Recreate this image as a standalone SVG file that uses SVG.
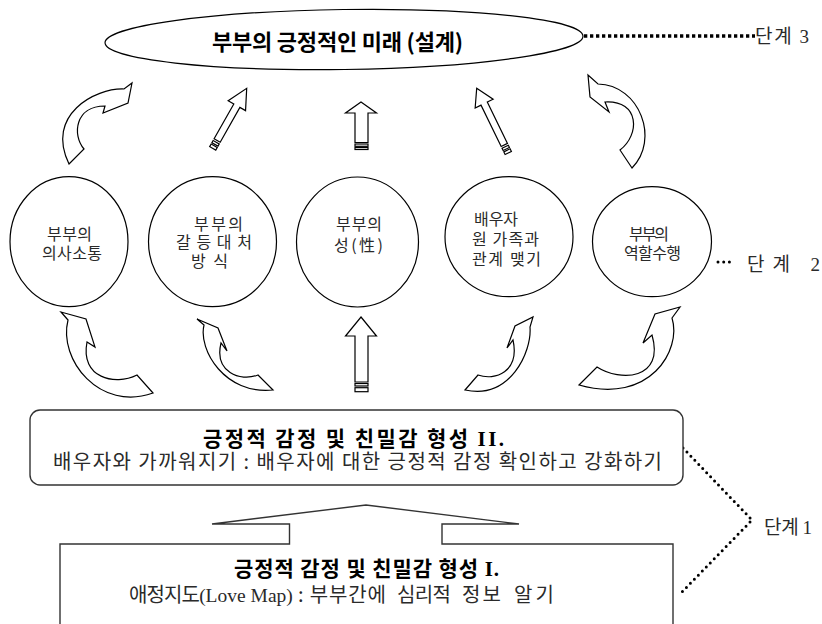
<svg xmlns="http://www.w3.org/2000/svg" width="822" height="624" viewBox="0 0 822 624">
<style>
.shape{fill:#fff;stroke:#000;stroke-width:1.2;stroke-linejoin:miter}
.box{fill:#fff;stroke:#333;stroke-width:1.4}
.t{font-family:"Noto Sans CJK KR","Noto Sans CJK SC",sans-serif;fill:#2a2a2a;font-size:16px}
.big{font-size:20px}
.lab{font-size:19px}
.b{font-family:"Noto Sans CJK KR","Noto Sans CJK SC",sans-serif;font-weight:700;fill:#000;font-size:21px}
.lat{font-family:"Liberation Serif",serif}
.dotsq{fill:none;stroke:#000;stroke-width:3.3;stroke-dasharray:3.3 2.7}
.dotrd{fill:none;stroke:#000;stroke-width:3;stroke-linecap:round;stroke-dasharray:0 5.7}
</style>
<rect width="822" height="624" fill="#fff"/>

<g id="connectors">
  <path class="shape" d="M69,164 L84,149 C72,135 75,106 105,106 L103,113 L128,103 L132,83 L124,89 C95,88 45,115 69,164 Z"/>
  <g transform="translate(246.7,88.3) rotate(29.5)">
    <path class="shape" d="M0,0 L10,20 L3.5,20 L3.5,60 L-3.5,60 L-3.5,20 L-10,20 Z"/>
    <rect class="shape" x="-3.5" y="62" width="7" height="2.5"/>
    <rect class="shape" x="-3.5" y="66" width="7" height="3"/>
  </g>
  <g>
    <path class="shape" d="M361,102 L376.5,113 L368,113 L368,142.5 L355,142.5 L355,113 L345.5,113 Z"/>
    <rect class="shape" x="355" y="144" width="13" height="2.3"/>
    <rect class="shape" x="355" y="147.5" width="13" height="2"/>
  </g>
  <g transform="translate(476.7,88.3) rotate(-26)">
    <path class="shape" d="M0,0 L10,17 L3.5,17 L3.5,63 L-3.5,63 L-3.5,17 L-10,17 Z"/>
    <rect class="shape" x="-3.5" y="65" width="7" height="2.5"/>
    <rect class="shape" x="-3.5" y="69" width="7" height="3"/>
  </g>
  <path class="shape" d="M632,168 L620,150 C640,135 640,100 605,102 L609,112 L590,97 L588,75 L598,84 C640,85 660,140 632,168 Z"/>

  <path class="shape" d="M153,393 L137,375 C115,386 80,378 87,342 L95,347 L86,319 L61,312 L68,320 C58,360 100,412 153,393 Z"/>
  <path class="shape" d="M273,390 L258,375 C240,382 214,372 221,343 L227,351 L218,328 L197,319 L204,325 C198,350 225,395 273,390 Z"/>
  <g>
    <path class="shape" d="M361,317 L376.5,336 L368,336 L368,382 L355,382 L355,336 L345.5,336 Z"/>
    <rect class="shape" x="355" y="383.5" width="13" height="2.5"/>
    <rect class="shape" x="355" y="387.7" width="13" height="4"/>
  </g>
  <path class="shape" d="M465,390 L478,375 C495,381 520,372 513,340 L507,348 L515,326 L533,317 L530,327 C532,352 510,400 465,390 Z"/>
  <path class="shape" d="M579,385 L597,367 C620,382 665,380 652,335 L643,343 L655,314 L680,307 L672,318 C682,350 650,405 579,385 Z"/>

  <line class="dotsq" x1="584" y1="36" x2="755" y2="36"/>
  <line class="dotrd" x1="718" y1="262" x2="734" y2="262"/>
  <polyline class="dotrd" points="683,448 752,520 682,592"/>
</g>

<g id="goal">
  <ellipse class="shape" cx="344" cy="39.5" rx="239" ry="30" transform="rotate(-0.8 344 39.5)"/>
  <text class="b" x="212" y="50" style="font-size:22px" textLength="251">부부의 긍정적인 미래 (설계)</text>
</g>

<g id="c1">
  <ellipse class="shape" cx="69" cy="241.7" rx="59" ry="65"/>
  <text class="t"><tspan x="47" y="239.5" textLength="45">부부의</tspan><tspan x="42" y="258.5" textLength="60">의사소통</tspan></text>
</g>
<g id="c2">
  <ellipse class="shape" cx="212.5" cy="241.7" rx="64" ry="65"/>
  <text class="t"><tspan x="194" y="229.5" textLength="49">부부의</tspan><tspan x="176" y="248" textLength="76">갈등대처</tspan><tspan x="191" y="266.5" textLength="37">방식</tspan></text>
</g>
<g id="c3">
  <ellipse class="shape" cx="357.5" cy="242" rx="61" ry="65"/>
  <text class="t"><tspan x="336" y="230" textLength="46">부부의</tspan><tspan x="334" y="251" textLength="49">성(性)</tspan></text>
</g>
<g id="c4">
  <ellipse class="shape" cx="509" cy="236.7" rx="64" ry="60"/>
  <text class="t"><tspan x="474" y="225" textLength="44">배우자</tspan><tspan x="472" y="245" textLength="67">원 가족과</tspan><tspan x="472" y="265" textLength="69">관계 맺기</tspan></text>
</g>
<g id="c5">
  <ellipse class="shape" cx="652" cy="241.7" rx="59.5" ry="55"/>
  <text class="t"><tspan x="629" y="239.5" textLength="40">부부의</tspan><tspan x="624" y="258.5" textLength="57">역할수행</tspan></text>
</g>

<g id="stage2box">
  <rect class="box" x="30" y="410" width="653" height="75" rx="10"/>
  <text class="b" x="203" y="446" textLength="301">긍정적 감정 및 친밀감 형성 <tspan class="lat">II.</tspan></text>
  <text class="t big" x="53" y="469" textLength="609">배우자와 가까워지기 : 배우자에 대한 긍정적 감정 확인하고 강화하기</text>
</g>

<g id="stage1box">
  <path class="box" d="M60,626 V544 H289.5 V524 H212 L366,505 L519,524 H442 V544 H673 V626"/>
  <text class="b" x="234" y="576" textLength="265">긍정적 감정 및 친밀감 형성 <tspan class="lat">I.</tspan></text>
  <text class="t big" y="602"><tspan x="129" textLength="71">애정지도</tspan><tspan class="lat" style="font-size:19.5px">(Love Map)</tspan><tspan x="298" textLength="88">: 부부간에</tspan><tspan x="397" textLength="54">심리적</tspan><tspan x="462" textLength="39">정보</tspan><tspan x="514" textLength="40">알기</tspan></text>
</g>

<g id="labels">
  <text class="t lab" x="755" y="43" textLength="54">단계 <tspan class="lat">3</tspan></text>
  <text class="t lab" x="747" y="271" textLength="73">단계 <tspan class="lat">2</tspan></text>
  <text class="t lab" x="764" y="534" textLength="48">단계 <tspan class="lat">1</tspan></text>
</g>
</svg>
